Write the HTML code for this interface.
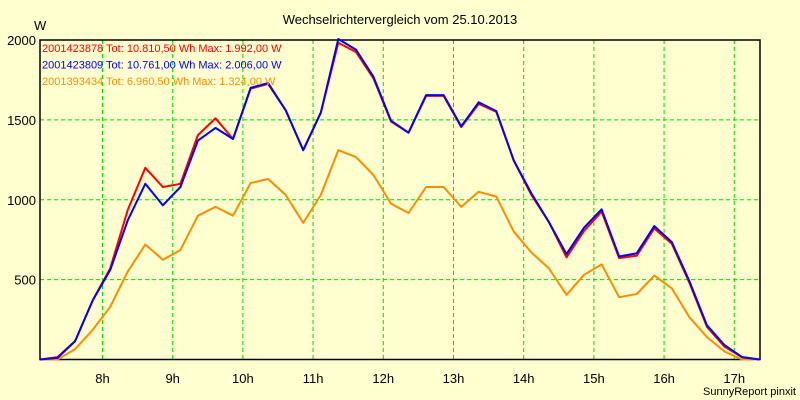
<!DOCTYPE html>
<html><head><meta charset="utf-8"><style>
body{margin:0;background:#ffffd0;}
svg{display:block;font-family:"Liberation Sans",sans-serif;}
</style></head><body>
<svg id="chart" width="800" height="400" viewBox="0 0 800 400">
<rect x="0" y="0" width="800" height="400" fill="#ffffd0"/>
<text x="400" y="24" text-anchor="middle" font-size="13" fill="#000">Wechselrichtervergleich vom 25.10.2013</text>
<text x="34" y="30" font-size="13" fill="#000">W</text>
<g id="grid"></g>
<g id="axes"></g>
<g id="series"></g>
<g id="legend"></g>
<text x="796" y="395" text-anchor="end" font-size="11" fill="#000">SunnyReport pinxit</text>
</svg>
<script>
const startHour = 7.11;
const stepHours = 0.25;
const red = [0,15,115,370,570,935,1200,1080,1100,1405,1510,1380,1695,1725,1560,1310,1545,1983,1925,1760,1490,1420,1650,1650,1455,1600,1550,1245,1030,860,640,805,925,635,650,820,725,480,205,80,15,0];
const blue = [0,10,115,370,560,870,1100,965,1080,1370,1450,1380,1700,1730,1560,1310,1545,2006,1940,1770,1495,1420,1655,1655,1460,1610,1555,1245,1040,860,660,825,940,645,665,835,735,490,215,90,15,0];
const orange = [0,0,65,185,330,550,720,625,685,900,955,900,1105,1130,1030,855,1030,1310,1267,1155,975,917,1080,1080,955,1050,1020,800,670,570,405,530,595,390,410,525,445,265,140,50,0,0];
const hourTicks = [8,9,10,11,12,13,14,15,16,17];
const yTicks = [500,1000,1500,2000];
const legendLabels = ["2001423878 Tot: 10.810,50 Wh Max: 1.992,00 W","2001423809 Tot: 10.761,00 Wh Max: 2.006,00 W","2001393434 Tot: 6.960,50 Wh Max: 1.324,00 W"];

const NS="http://www.w3.org/2000/svg";
const L=40,R=760,T=40,B=359.5;
const xOfHour=h=>L+(h-startHour)*70.2;
const xOfIndex=i=>xOfHour(startHour+i*stepHours);
const yOf=v=>B-(v/2000)*(B-T);
function mk(tag,attrs,parent){const e=document.createElementNS(NS,tag);for(const k in attrs)e.setAttribute(k,attrs[k]);parent.appendChild(e);return e;}
const grid=document.getElementById('grid'),axes=document.getElementById('axes'),ser=document.getElementById('series'),leg=document.getElementById('legend');
hourTicks.forEach(h=>{const x=xOfHour(h);
 const g=mk('line',{x1:x,x2:x,y1:T,y2:B,stroke:'#00dd00','stroke-dasharray':'4,3','stroke-width':1},grid);
 
 
 const t=mk('text',{x:x,y:383,'text-anchor':'middle','font-size':13,fill:'#000'},axes);t.textContent=h+'h';
 
 
});
yTicks.forEach(v=>{const y=yOf(v);
 if(v<2000){const g=mk('line',{x1:L,x2:R,y1:y,y2:y,stroke:'#00dd00','stroke-dasharray':'4,3','stroke-width':1},grid);
 
 }
 const t=mk('text',{x:36,y:y+5,'text-anchor':'end','font-size':13,fill:'#000'},axes);t.textContent=v;
 
 
});
const frame=mk('rect',{x:L,y:T,width:R-L,height:B-T,fill:'none',stroke:'#000','stroke-width':1.5},axes);


function line(data,color,name){const pts=data.map((v,i)=>xOfIndex(i).toFixed(1)+','+yOf(v).toFixed(1)).join(' ');
 const p=mk('polyline',{points:pts,fill:'none',stroke:color,'stroke-width':2,'stroke-linejoin':'round'},ser);
 
 }
line(orange,'#ff8c00','series-2001393434');
line(red,'#ff0000','series-2001423878');
line(blue,'#0000ff','series-2001423809');
const colors=['#ff0000','#0000ff','#ff8c00'];
legendLabels.forEach((s,i)=>{const t=mk('text',{x:42,y:52+i*16.5,'font-size':11,fill:colors[i]},leg);t.textContent=s;
 
 });
</script>
</body></html>
